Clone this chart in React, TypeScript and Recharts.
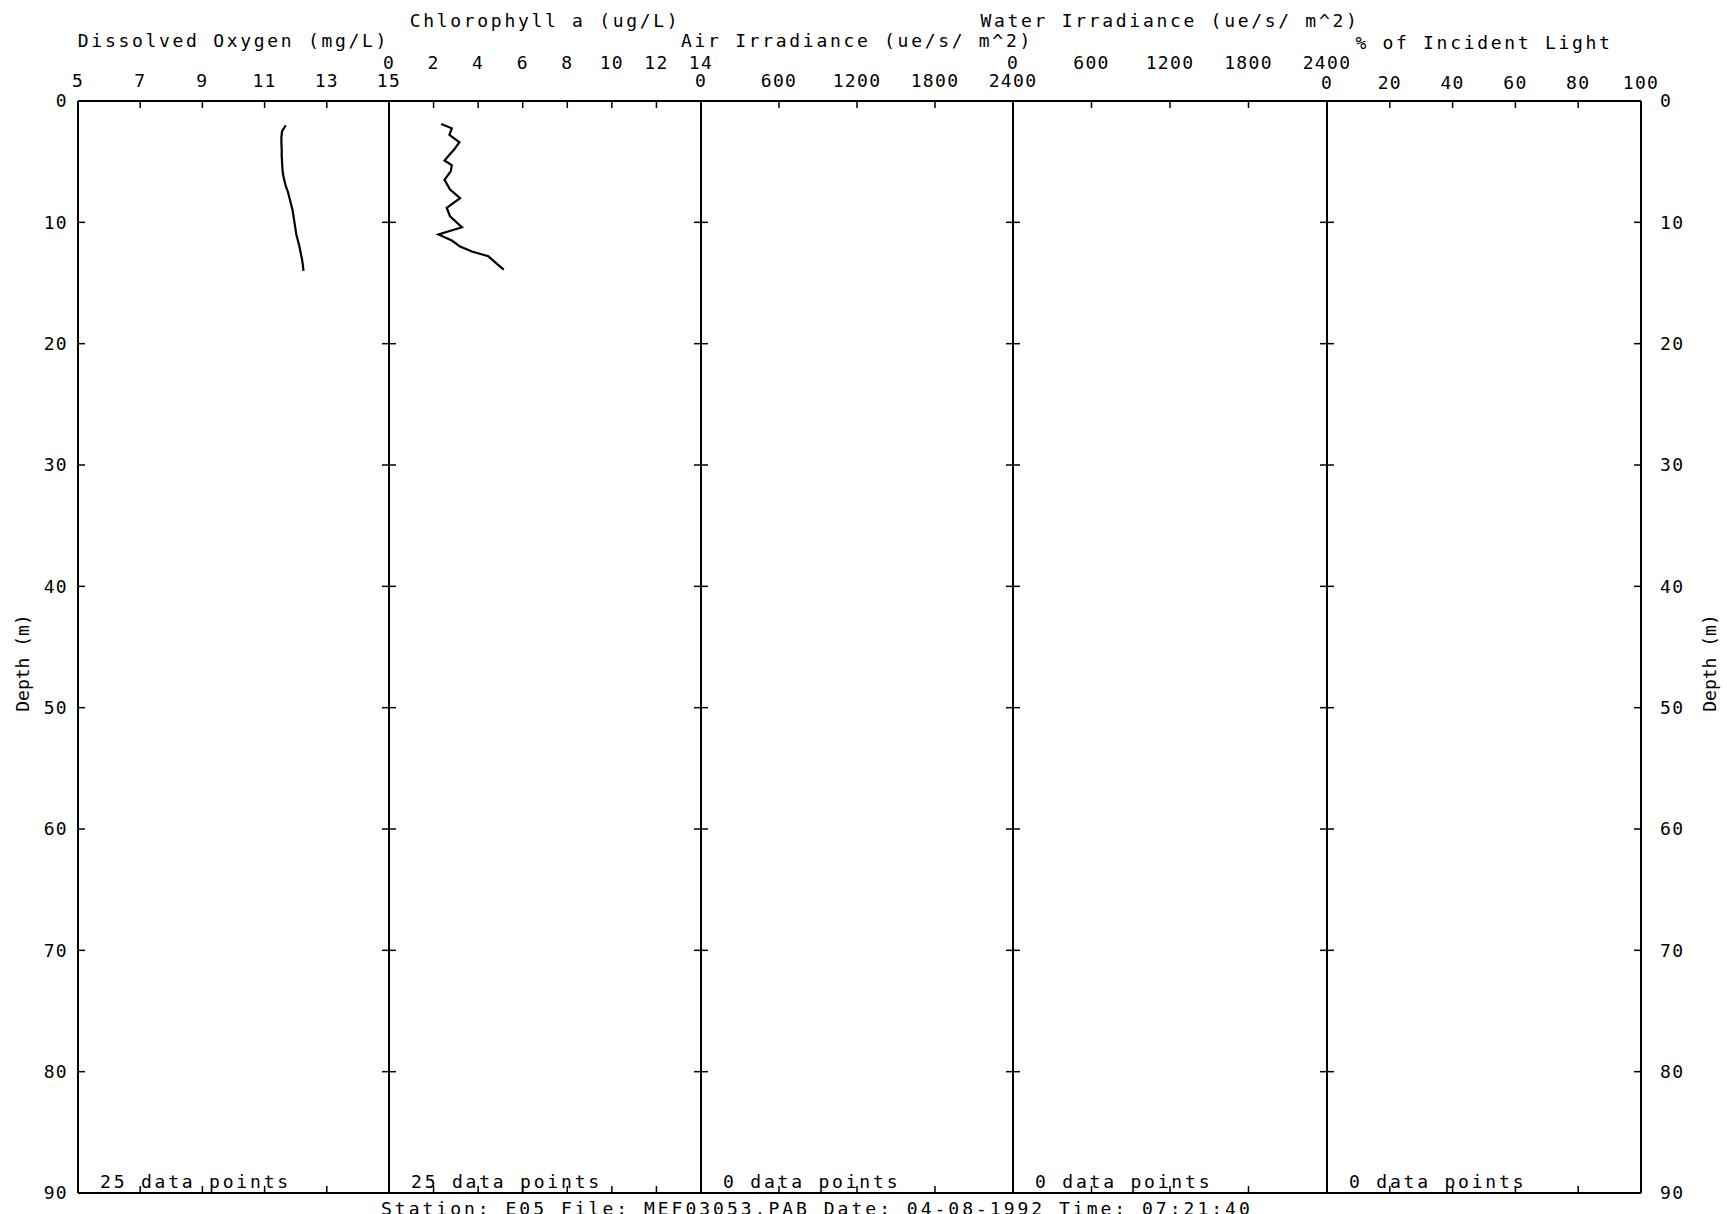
import React from "react";
import { LineChart, Line, XAxis, YAxis } from "recharts";

const MONO = "'DejaVu Sans Mono', 'Liberation Mono', monospace";

// depth axis (m), shared by every panel
const depthTicks = [0, 10, 20, 30, 40, 50, 60, 70, 80, 90];

// dissolved oxygen profile (mg/L)
const oxygenDepth = [2, 2.5, 3, 3.5, 4, 4.5, 5, 5.5, 6, 6.5, 7, 7.5, 8, 8.5, 9, 9.5, 10, 10.5, 11, 11.5, 12, 12.5, 13, 13.5, 14];
const oxygenMgL = [11.68, 11.56, 11.54, 11.54, 11.55, 11.55, 11.56, 11.57, 11.59, 11.63, 11.68, 11.75, 11.8, 11.85, 11.9, 11.93, 11.96, 11.99, 12.02, 12.07, 12.12, 12.16, 12.2, 12.23, 12.25];

// chlorophyll a profile (ug/L)
const chlDepth = [1.9, 2.25, 2.8, 3.4, 4.0, 4.9, 5.3, 5.8, 6.5, 7.3, 8.0, 8.8, 9.5, 10.4, 11.0, 11.5, 12.0, 12.4, 12.8, 13.4, 13.9];
const chlUgL = [2.34, 2.82, 2.71, 3.16, 2.92, 2.49, 2.82, 2.77, 2.49, 2.74, 3.19, 2.59, 2.74, 3.27, 2.22, 2.82, 3.19, 3.72, 4.46, 4.83, 5.15];

const oxygenTicks = [5, 7, 9, 11, 13, 15];
const chlTicks = [0, 2, 4, 6, 8, 10, 12, 14];
const irradianceTicks = [0, 600, 1200, 1800, 2400];
const percentTicks = [0, 20, 40, 60, 80, 100];

const panelTitles = [
    "Dissolved Oxygen (mg/L)",
    "Chlorophyll a (ug/L)",
    "Air Irradiance (ue/s/ m^2)",
    "Water Irradiance (ue/s/ m^2)",
    "% of Incident Light",
];
const pointCounts = [25, 25, 0, 0, 0];
const stationText = "Station: E05 File: MEF03053.PAB Date: 04-08-1992 Time: 07:21:40";

const W = 1727;
const H = 1214;
const EDGES = [78, 389, 701, 1013, 1327, 1641];
const LP = 78;
const RP = 86;
const TOP = 101;
const BOTTOM = 1193;
const TICK = 7;

const toRows = (depth: number[], vals: number[]) =>
    depth.map((d, i) => ({ depth: d, value: vals[i] }));

// baseline of title / tick row, per panel (staggered like the original plot)
const panels = [
    { ticks: oxygenTicks, data: toRows(oxygenDepth, oxygenMgL), titleBase: 47, tickBase: 87 },
    { ticks: chlTicks, data: toRows(chlDepth, chlUgL), titleBase: 27, tickBase: 69 },
    { ticks: irradianceTicks, data: [], titleBase: 47, tickBase: 87 },
    { ticks: irradianceTicks, data: [], titleBase: 27, tickBase: 69 },
    { ticks: percentTicks, data: [], titleBase: 49, tickBase: 89 },
];

const tickStyle = { fill: "#000", fontSize: 18, fontFamily: MONO };
const noLabel = () => <g />;

const depthTitle = (cx: number) => {
    const cy = 663;
    return (
        <text
            x={cx}
            y={cy}
            transform={`rotate(-90 ${cx} ${cy})`}
            textAnchor="middle"
            dominantBaseline="central"
            fontFamily={MONO}
            fontSize={18}
            fill="#000"
        >
            Depth (m)
        </text>
    );
};

function Panel({ idx }: { idx: number }) {
    const cfg = panels[idx];
    const left = EDGES[idx];
    const w = EDGES[idx + 1] - left;
    const first = idx === 0;
    const last = idx === panels.length - 1;
    const domain = [cfg.ticks[0], cfg.ticks[cfg.ticks.length - 1]];

    // frame axes: mirrored so their ticks point into the panel
    const frame = {
        stroke: "#000",
        strokeWidth: 2,
        tickSize: TICK,
        tick: noLabel,
        tickLine: { strokeWidth: 1.5 },
        allowDataOverflow: true,
        interval: 0 as const,
        mirror: true,
    };

    return (
        <div style={{ position: "absolute", left: left - LP, top: 0 }}>
            <LineChart
                layout="vertical"
                width={LP + w + RP}
                height={H}
                data={cfg.data}
                margin={{ top: 0, right: last ? 0 : RP, bottom: H - BOTTOM, left: first ? 0 : LP }}
            >
                {/* tick labels + title above the panel */}
                <XAxis
                    xAxisId="t"
                    orientation="top"
                    type="number"
                    domain={domain}
                    ticks={cfg.ticks}
                    interval={0}
                    allowDataOverflow
                    height={TOP}
                    axisLine={false}
                    tickLine={false}
                    tickSize={0}
                    tickMargin={TOP - cfg.tickBase}
                    tick={tickStyle}
                    label={{
                        content: (p: any) => (
                            <text
                                x={p.viewBox.x + p.viewBox.width / 2}
                                y={cfg.titleBase}
                                textAnchor="middle"
                                fontFamily={MONO}
                                fontSize={18}
                                letterSpacing={2.7}
                                fill="#000"
                            >
                                {panelTitles[idx]}
                            </text>
                        ),
                    }}
                />
                <XAxis xAxisId="tm" orientation="top" type="number" domain={domain} ticks={cfg.ticks} height={20} {...frame} />
                <XAxis
                    xAxisId="bm"
                    orientation="bottom"
                    type="number"
                    domain={domain}
                    ticks={cfg.ticks}
                    height={20}
                    {...frame}
                    label={{
                        content: (p: any) => (
                            <text
                                x={EDGES[idx] - left + (first ? LP : LP) + 22}
                                y={BOTTOM - 5}
                                fontFamily={MONO}
                                fontSize={18}
                                letterSpacing={2.8}
                                fill="#000"
                            >
                                {`${pointCounts[idx]} data points`}
                            </text>
                        ),
                    }}
                />
                <YAxis yAxisId="lm" orientation="left" type="number" dataKey="depth" domain={[0, 90]} ticks={depthTicks} width={20} {...frame} />
                <YAxis yAxisId="rm" orientation="right" type="number" dataKey="depth" domain={[0, 90]} ticks={depthTicks} width={20} {...frame} />
                {first && (
                    <YAxis
                        yAxisId="ll"
                        orientation="left"
                        type="number"
                        dataKey="depth"
                        domain={[0, 90]}
                        ticks={depthTicks}
                        interval={0}
                        allowDataOverflow
                        width={LP}
                        axisLine={false}
                        tickLine={false}
                        tickSize={0}
                        tickMargin={10}
                        tick={tickStyle}
                        label={{ content: () => depthTitle(22) }}
                    />
                )}
                {last && (
                    <YAxis
                        yAxisId="rl"
                        orientation="right"
                        type="number"
                        dataKey="depth"
                        domain={[0, 90]}
                        ticks={depthTicks}
                        interval={0}
                        allowDataOverflow
                        width={RP}
                        axisLine={false}
                        tickLine={false}
                        tickSize={0}
                        tickMargin={19}
                        tick={tickStyle}
                        label={{ content: () => depthTitle(LP + w + 68) }}
                    />
                )}
                {cfg.data.length > 0 && (
                    <Line
                        xAxisId="t"
                        yAxisId="lm"
                        type="linear"
                        dataKey="value"
                        stroke="#000"
                        strokeWidth={2.2}
                        dot={false}
                        isAnimationActive={false}
                    />
                )}
            </LineChart>
        </div>
    );
}

export default function App() {
    return (
        <div
            style={{
                position: "absolute",
                left: 0,
                top: 0,
                width: W,
                height: H,
                overflow: "hidden",
                background: "#fff",
            }}
        >
            <style>{`.recharts-cartesian-axis-tick-value { letter-spacing: 1.3px; }`}</style>
            {panels.map((_, i) => (
                <Panel key={i} idx={i} />
            ))}
            <div
                style={{
                    position: "absolute",
                    left: 381,
                    top: 1200,
                    fontFamily: MONO,
                    fontSize: 18,
                    lineHeight: "18px",
                    letterSpacing: 3,
                    whiteSpace: "pre",
                    color: "#000",
                }}
            >
                {stationText}
            </div>
        </div>
    );
}
